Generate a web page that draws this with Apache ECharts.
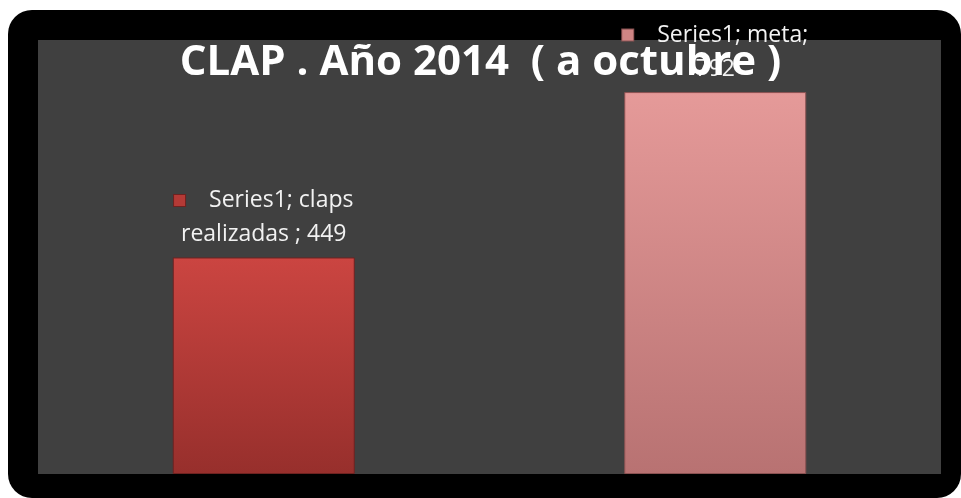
<!DOCTYPE html>
<html>
<head>
<meta charset="utf-8">
<script src="https://cdn.jsdelivr.net/npm/echarts@6/dist/echarts.min.js"></script>
<style>
  html, body { margin: 0; padding: 0; background: #fff; }
  #frame {
    position: absolute; left: 8px; top: 10px; width: 953px; height: 488px;
    background: #000; border-radius: 24px;
  }
  #chart { position: absolute; left: 0; top: 0; width: 961px; height: 498px; }
</style>
</head>
<body>
<div id="frame"></div>
<div id="chart"></div>
<script>
const titleText = 'CLAP . Año 2014  ( a octubre )'
const seriesName = 'Series1'
const categories = ['claps realizadas ', 'meta']
const values = [449, 792]
const yMax = 900

const barFills = [
  { top: '#cb4541', bottom: '#972f2c', border: '#6e2220', key: '#b43a36' },
  { top: '#e59a99', bottom: '#b87272', border: '#8a5252', key: '#cf8584' }
]

// "Series1; claps" / "realizadas ; 449"
function labelText(p) {
  const words = categories[p.dataIndex].trim().split(' ')
  const first = words.shift()
  const rest = words.join(' ')
  const line1 = `${seriesName}; ${first}` + (rest ? '' : ';')
  const line2 = rest ? `${rest} ; ${p.value}` : `${p.value}`
  return `{m|}{g|}{t|${line1}}\n{t|${line2}}`
}

const chart = echarts.init(document.getElementById('chart'))

chart.setOption({
  backgroundColor: 'transparent',
  title: {
    text: titleText,
    left: 'center',
    top: 37,
    textStyle: { color: '#ffffff', fontFamily: 'Open Sans', fontWeight: 'bold', fontSize: 42 },
    z: 10
  },
  grid: {
    left: 38, right: 20, top: 40, bottom: 24,
    show: true, backgroundColor: '#404040', borderWidth: 0
  },
  xAxis: {
    type: 'category',
    data: categories,
    axisLine: { show: false },
    axisTick: { show: false },
    axisLabel: { show: false }
  },
  yAxis: {
    type: 'value',
    min: 0,
    max: yMax,
    show: false,
    splitLine: { show: false }
  },
  series: [{
    name: seriesName,
    type: 'bar',
    barWidth: 182,
    data: values.map((v, i) => ({
      value: v,
      itemStyle: {
        color: new echarts.graphic.LinearGradient(0, 0, 0, 1, [
          { offset: 0, color: barFills[i].top },
          { offset: 1, color: barFills[i].bottom }
        ]),
        borderColor: barFills[i].border,
        borderWidth: 1
      },
      label: {
        rich: {
          m: {
            width: 11, height: 11,
            backgroundColor: barFills[i].key,
            borderColor: barFills[i].border, borderWidth: 1
          },
          g: { width: 24 },
          t: { color: '#f2f2f2', fontFamily: 'Open Sans', fontSize: 23, lineHeight: 34 }
        }
      }
    })),
    label: {
      show: true,
      position: 'top',
      distance: 6,
      align: 'center',
      formatter: labelText
    }
  }]
})
</script>
</body>
</html>
